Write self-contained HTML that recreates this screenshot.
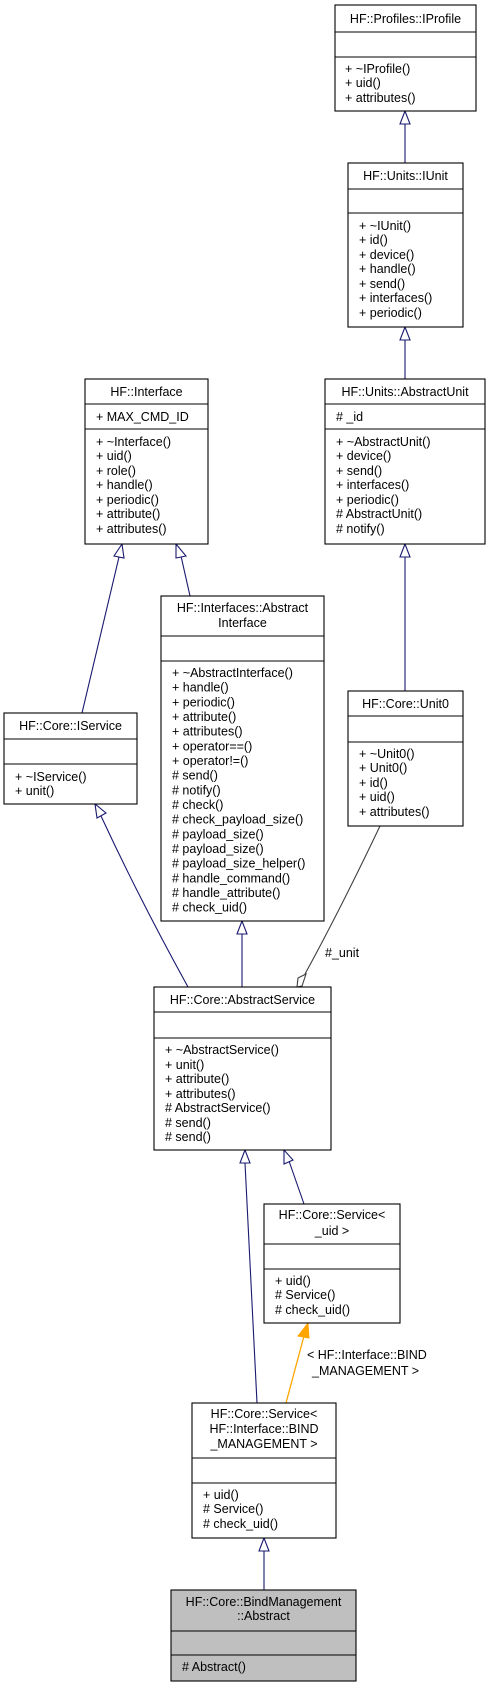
<!DOCTYPE html>
<html><head><meta charset="utf-8"><style>
html,body{margin:0;padding:0;background:#fff;}
svg{display:block;}
text{font-family:"Liberation Sans",Arial,sans-serif;font-size:12.5px;fill:#000;}
.b{fill:#fff;stroke:#000;stroke-width:1.1;}
.g{fill:#bfbfbf;stroke:#000;stroke-width:1.1;}
.l{stroke:#000;stroke-width:1.1;}
.e{fill:none;stroke:#191970;stroke-width:1.1;}
.h{fill:#fff;stroke:#191970;stroke-width:1.1;}
</style></head><body>
<svg width="491" height="1688" viewBox="0 0 491 1688" xmlns="http://www.w3.org/2000/svg">
<!-- edges -->
<path class="e" d="M405,124 L405,163"/><polygon class="h" points="405,111 400,124 410,124"/>
<path class="e" d="M405,340 L405,380"/><polygon class="h" points="405,327 400,340 410,340"/>
<path class="e" d="M405,557 L405,691"/><polygon class="h" points="405,544 400,557 410,557"/>
<path class="e" d="M119,557 L82,713"/><polygon class="h" points="122,544 114,556 124,558"/>
<path class="e" d="M181,556 L190,596"/><polygon class="h" points="176,544 176,558 186,556"/>
<path class="e" d="M101,816 Q140,900 188,987"/><polygon class="h" points="95,804 97,818 106,813"/>
<path class="e" d="M242,934 L242,987"/><polygon class="h" points="242,921 237,934 247,934"/>
<path d="M380,826 Q340,910 305,974" fill="none" stroke="#404040" stroke-width="1.1"/>
<polygon points="306,974 302,986 297,987 298,978" fill="#fff" stroke="#404040" stroke-width="1.1"/>
<path class="e" d="M245,1163 L257,1403"/><polygon class="h" points="245,1150 240,1163 250,1163"/>
<path class="e" d="M289,1161 L304,1204"/><polygon class="h" points="284,1150 284,1164 293,1160"/>
<path d="M304,1336 L286,1403" stroke="orange" stroke-width="1.3" fill="none"/><polygon points="308,1323 298,1336 309,1338" fill="orange" stroke="orange"/>
<path class="e" d="M264,1551 L264,1590"/><polygon class="h" points="264,1538 259,1551 269,1551"/>
<text x="307" y="1359">&lt; HF::Interface::BIND</text>
<text x="312" y="1375">_MANAGEMENT &gt;</text>
<text x="325" y="957">#_unit</text>

<!-- IProfile -->
<rect class="b" x="335" y="5" width="141" height="106"/>
<line class="l" x1="335" y1="32" x2="476" y2="32"/><line class="l" x1="335" y1="57" x2="476" y2="57"/>
<text x="405.5" y="23" text-anchor="middle">HF::Profiles::IProfile</text>
<text x="345" y="73">+ ~IProfile()</text><text x="345" y="87">+ uid()</text><text x="345" y="102">+ attributes()</text>

<!-- IUnit -->
<rect class="b" x="348" y="163" width="115" height="164"/>
<line class="l" x1="348" y1="189" x2="463" y2="189"/><line class="l" x1="348" y1="213" x2="463" y2="213"/>
<text x="405.5" y="180" text-anchor="middle">HF::Units::IUnit</text>
<text x="359" y="230">+ ~IUnit()</text><text x="359" y="244">+ id()</text><text x="359" y="259">+ device()</text><text x="359" y="273">+ handle()</text><text x="359" y="288">+ send()</text><text x="359" y="302">+ interfaces()</text><text x="359" y="317">+ periodic()</text>

<!-- Interface -->
<rect class="b" x="85" y="379" width="123" height="165"/>
<line class="l" x1="85" y1="404" x2="208" y2="404"/><line class="l" x1="85" y1="429" x2="208" y2="429"/>
<text x="146.5" y="396" text-anchor="middle">HF::Interface</text>
<text x="96" y="421">+ MAX_CMD_ID</text>
<text x="96" y="446">+ ~Interface()</text><text x="96" y="460">+ uid()</text><text x="96" y="475">+ role()</text><text x="96" y="489">+ handle()</text><text x="96" y="504">+ periodic()</text><text x="96" y="518">+ attribute()</text><text x="96" y="533">+ attributes()</text>

<!-- AbstractUnit -->
<rect class="b" x="325" y="379" width="160" height="165"/>
<line class="l" x1="325" y1="404" x2="485" y2="404"/><line class="l" x1="325" y1="429" x2="485" y2="429"/>
<text x="405" y="396" text-anchor="middle">HF::Units::AbstractUnit</text>
<text x="336" y="421"># _id</text>
<text x="336" y="446">+ ~AbstractUnit()</text><text x="336" y="460">+ device()</text><text x="336" y="475">+ send()</text><text x="336" y="489">+ interfaces()</text><text x="336" y="504">+ periodic()</text><text x="336" y="518"># AbstractUnit()</text><text x="336" y="533"># notify()</text>

<!-- AbstractInterface -->
<rect class="b" x="161" y="596" width="163" height="325"/>
<line class="l" x1="161" y1="636" x2="324" y2="636"/><line class="l" x1="161" y1="661" x2="324" y2="661"/>
<text x="242.5" y="612" text-anchor="middle">HF::Interfaces::Abstract</text>
<text x="242.5" y="627" text-anchor="middle">Interface</text>
<g>
<text x="172" y="677">+ ~AbstractInterface()</text><text x="172" y="691.7">+ handle()</text><text x="172" y="706.4">+ periodic()</text><text x="172" y="721">+ attribute()</text><text x="172" y="735.7">+ attributes()</text><text x="172" y="750.4">+ operator==()</text><text x="172" y="765">+ operator!=()</text><text x="172" y="779.7"># send()</text><text x="172" y="794.4"># notify()</text><text x="172" y="809"># check()</text><text x="172" y="823.7"># check_payload_size()</text><text x="172" y="838.4"># payload_size()</text><text x="172" y="853"># payload_size()</text><text x="172" y="867.7"># payload_size_helper()</text><text x="172" y="882.4"># handle_command()</text><text x="172" y="897"># handle_attribute()</text><text x="172" y="911.7"># check_uid()</text>
</g>

<!-- IService -->
<rect class="b" x="4" y="713" width="133" height="91"/>
<line class="l" x1="4" y1="739" x2="137" y2="739"/><line class="l" x1="4" y1="764" x2="137" y2="764"/>
<text x="70.5" y="730" text-anchor="middle">HF::Core::IService</text>
<text x="15" y="781">+ ~IService()</text><text x="15" y="795">+ unit()</text>

<!-- Unit0 -->
<rect class="b" x="348" y="691" width="115" height="135"/>
<line class="l" x1="348" y1="716" x2="463" y2="716"/><line class="l" x1="348" y1="742" x2="463" y2="742"/>
<text x="405.5" y="708" text-anchor="middle">HF::Core::Unit0</text>
<text x="359" y="758">+ ~Unit0()</text><text x="359" y="772">+ Unit0()</text><text x="359" y="787">+ id()</text><text x="359" y="801">+ uid()</text><text x="359" y="816">+ attributes()</text>

<!-- AbstractService -->
<rect class="b" x="154" y="987" width="177" height="163"/>
<line class="l" x1="154" y1="1012" x2="331" y2="1012"/><line class="l" x1="154" y1="1038" x2="331" y2="1038"/>
<text x="242.5" y="1004" text-anchor="middle">HF::Core::AbstractService</text>
<text x="165" y="1054">+ ~AbstractService()</text><text x="165" y="1069">+ unit()</text><text x="165" y="1083">+ attribute()</text><text x="165" y="1098">+ attributes()</text><text x="165" y="1112"># AbstractService()</text><text x="165" y="1127"># send()</text><text x="165" y="1141"># send()</text>

<!-- Service<_uid> -->
<rect class="b" x="264" y="1204" width="136" height="119"/>
<line class="l" x1="264" y1="1244" x2="400" y2="1244"/><line class="l" x1="264" y1="1269" x2="400" y2="1269"/>
<text x="332" y="1219" text-anchor="middle">HF::Core::Service&lt;</text>
<text x="332" y="1235" text-anchor="middle">_uid &gt;</text>
<text x="275" y="1285">+ uid()</text><text x="275" y="1299"># Service()</text><text x="275" y="1314"># check_uid()</text>

<!-- Service<BIND> -->
<rect class="b" x="192" y="1403" width="144" height="135"/>
<line class="l" x1="192" y1="1458" x2="336" y2="1458"/><line class="l" x1="192" y1="1483" x2="336" y2="1483"/>
<text x="264" y="1418" text-anchor="middle">HF::Core::Service&lt;</text>
<text x="264" y="1433" text-anchor="middle">HF::Interface::BIND</text>
<text x="264" y="1448" text-anchor="middle">_MANAGEMENT &gt;</text>
<text x="203" y="1499">+ uid()</text><text x="203" y="1513"># Service()</text><text x="203" y="1528"># check_uid()</text>

<!-- BindManagement -->
<rect class="g" x="171" y="1590" width="185" height="91"/>
<line class="l" x1="171" y1="1631" x2="356" y2="1631"/><line class="l" x1="171" y1="1655" x2="356" y2="1655"/>
<text x="263.5" y="1606" text-anchor="middle">HF::Core::BindManagement</text>
<text x="263.5" y="1620" text-anchor="middle">::Abstract</text>
<text x="182" y="1671"># Abstract()</text>
</svg>
</body></html>
